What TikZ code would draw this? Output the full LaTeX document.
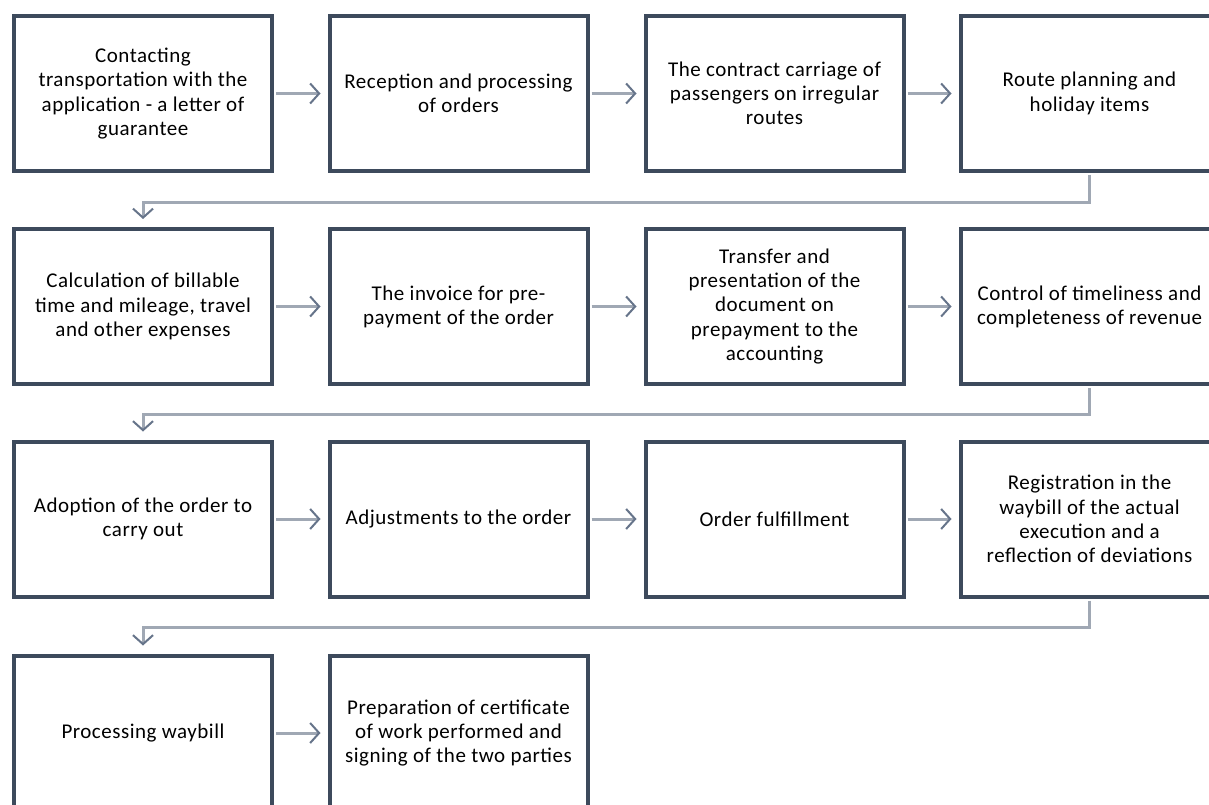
\documentclass[tikz,border=0pt]{standalone}
\usepackage{fontspec}
\setmainfont{Carlito}[LetterSpace=2.5]
\usetikzlibrary{arrows.meta}
\definecolor{boxc}{HTML}{3D4A5C}
\definecolor{linec}{HTML}{A0A8B4}
\definecolor{tipc}{HTML}{66748A}
\tikzset{
  stepbox/.style={draw=boxc, line width=4pt, fill=white, minimum width=258pt, minimum height=155pt,
    inner sep=0pt, align=center, font=\fontsize{21pt}{24.2pt}\selectfont, text=black},
  conn/.style={draw=linec, line width=3pt,
    -{Straight Barb[length=9pt, width=20pt, line width=2pt, color=tipc]}},
}
\begin{document}
\begin{tikzpicture}[x=1pt, y=-1pt]
\clip (0,0) rectangle (1209,805);
\fill[white] (0,0) rectangle (1209,805);
% row 1
\node[stepbox] (n1) at (143,93.5) {Contacting\\transportation with the\\application - a letter of\\guarantee};
\node[stepbox] (n2) at (458.5,93.5) {Reception and processing\\of orders};
\node[stepbox] (n3) at (774.5,93.5) {The contract carriage of\\passengers on irregular\\routes};
\node[stepbox] (n4) at (1089.5,93.5) {Route planning and\\holiday items};
% row 2
\node[stepbox] (n5) at (143,306.5) {Calculation of billable\\time and mileage, travel\\and other expenses};
\node[stepbox] (n6) at (458.5,306.5) {The invoice for pre-\\payment of the order};
\node[stepbox] (n7) at (774.5,306.5) {Transfer and\\presentation of the\\document on\\prepayment to the\\accounting};
\node[stepbox] (n8) at (1089.5,306.5) {Control of timeliness and\\completeness of revenue};
% row 3
\node[stepbox] (n9) at (143,519) {Adoption of the order to\\carry out};
\node[stepbox] (n10) at (458.5,519) {Adjustments to the order};
\node[stepbox] (n11) at (774.5,519) {Order fulfillment};
\node[stepbox] (n12) at (1089.5,519) {Registration in the\\waybill of the actual\\execution and a\\reflection of deviations};
% row 4
\node[stepbox] (n13) at (143,733) {Processing waybill};
\node[stepbox] (n14) at (458.5,733) {Preparation of certificate\\of work performed and\\signing of the two parties};
% horizontal connectors
\foreach \a/\b in {n1/n2,n2/n3,n3/n4,n5/n6,n6/n7,n7/n8,n9/n10,n10/n11,n11/n12,n13/n14}{
  \draw[conn, shorten <=2pt, shorten >=7pt] (\a.east) -- (\b.west);
}
% row-change connectors
\draw[conn, shorten <=2pt, shorten >=8pt] (n4.south) -- ++(0,29) -| (n5.north);
\draw[conn, shorten <=2pt, shorten >=8pt] (n8.south) -- ++(0,28) -| (n9.north);
\draw[conn, shorten <=2pt, shorten >=8pt] (n12.south) -- ++(0,29) -| (n13.north);
\end{tikzpicture}
\end{document}
